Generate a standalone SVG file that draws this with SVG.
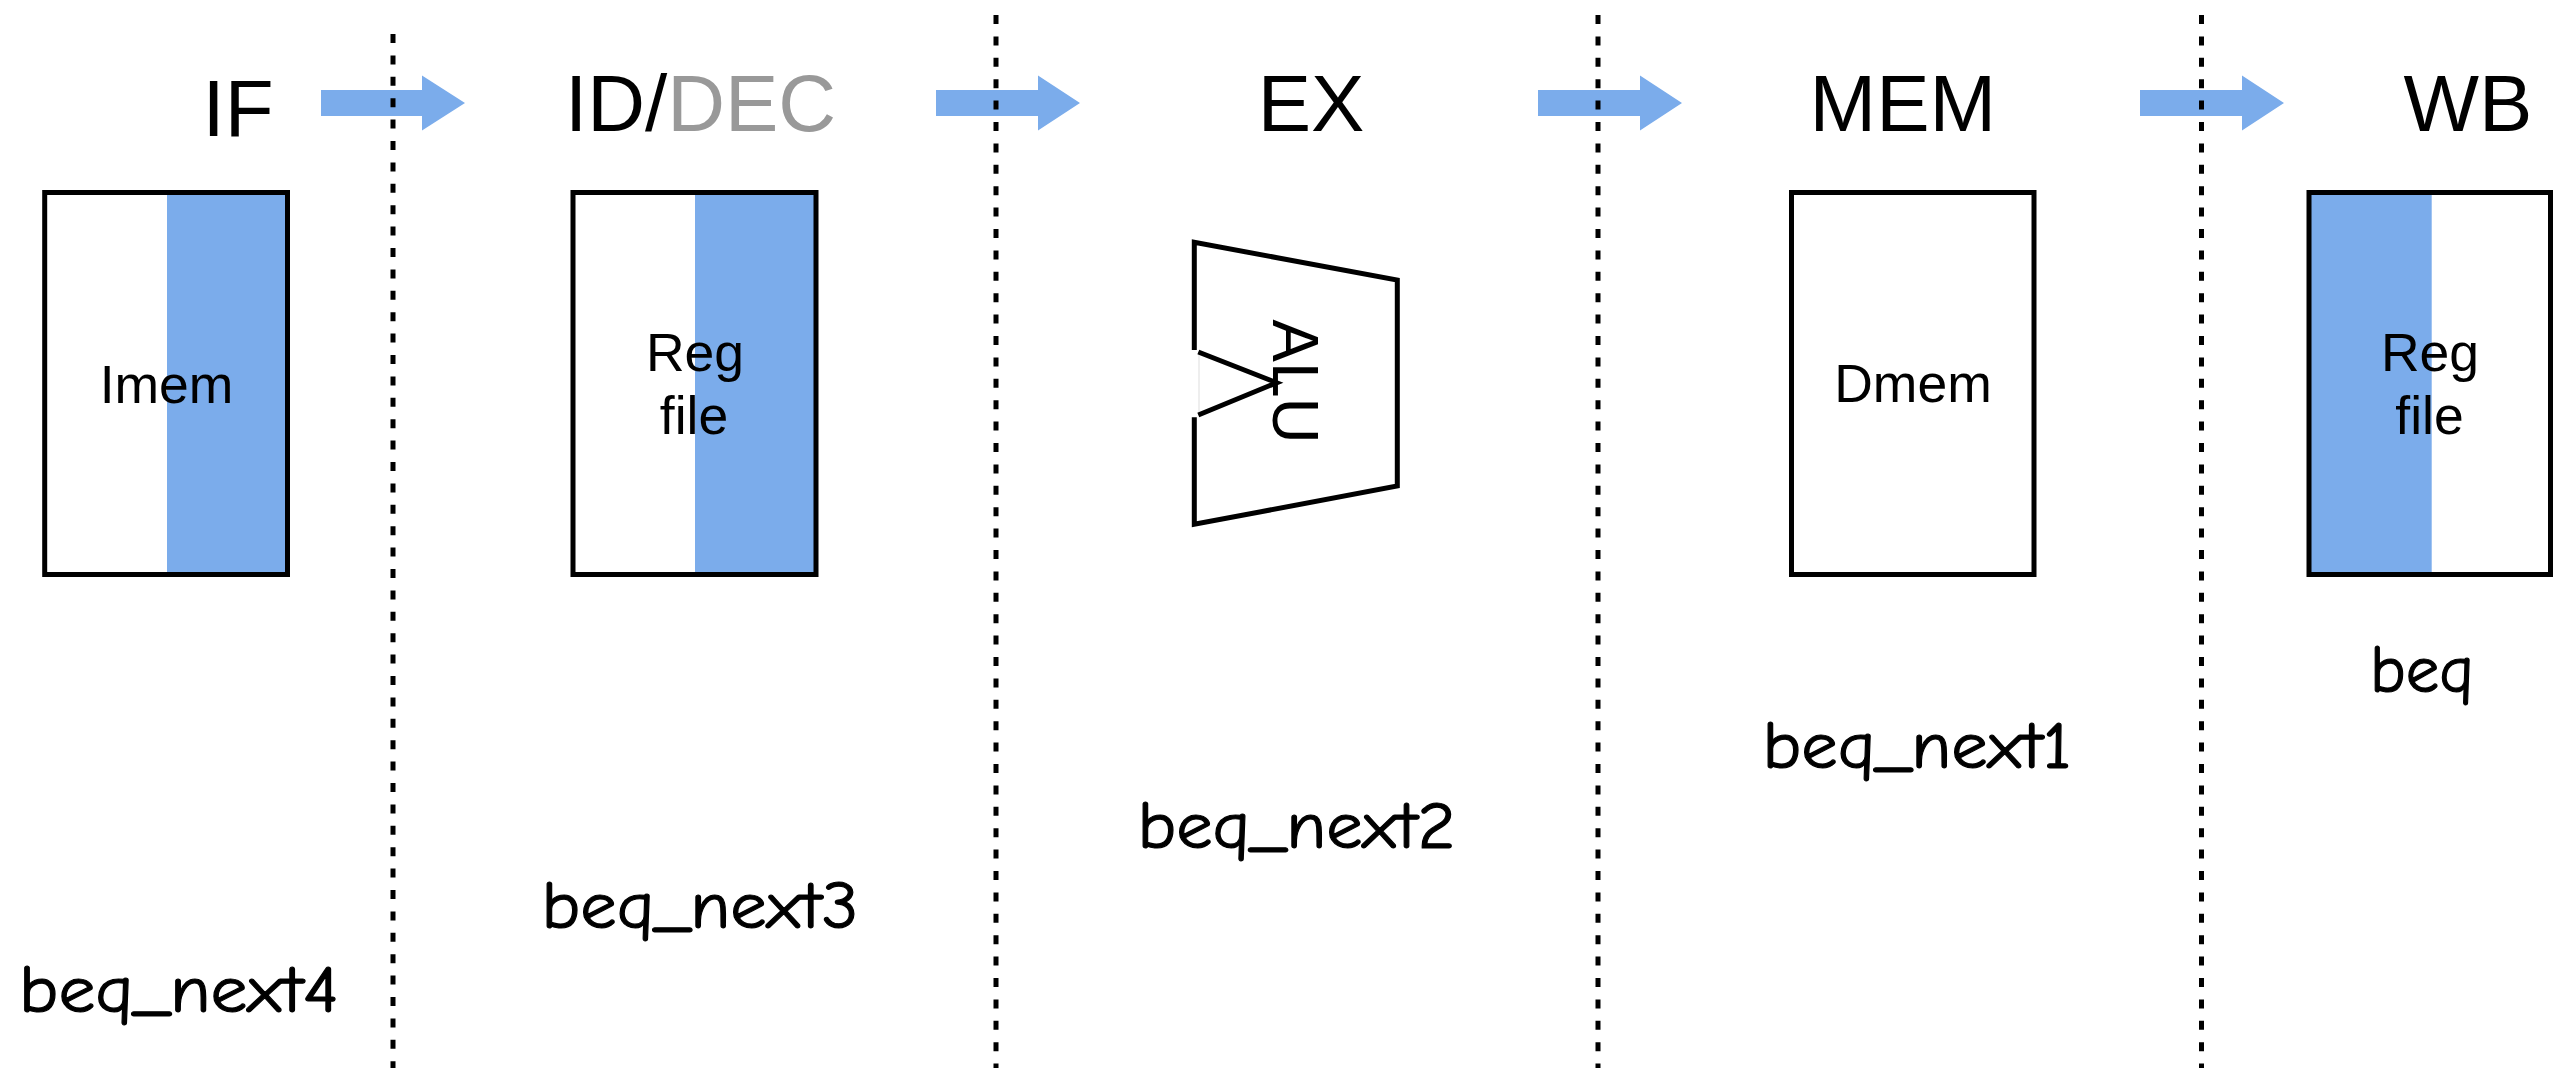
<svg xmlns="http://www.w3.org/2000/svg" width="2564" height="1068" viewBox="0 0 2564 1068">
  <style>
    .stage { font-family: "Liberation Sans", Arial, sans-serif; font-size: 80px; fill: #000; }
    .lbl { font-family: "Liberation Sans", Arial, sans-serif; font-size: 53.5px; fill: #000; text-anchor: middle; }
    .instr { font-family: "Comic Sans MS", "Comic Neue", "DejaVu Sans", sans-serif; font-size: 66px; font-weight: normal; fill: #000; stroke: #000; stroke-width: 1.1; stroke-linejoin: round; }
    .box { fill: none; stroke: #000; stroke-width: 5; }
    .bg { fill: #fff; }
    .blue { fill: #7BACEB; }
    .arrow { fill: #7BACEB; }
    .divider { stroke: #000; stroke-width: 5; stroke-dasharray: 9 12.4; fill: none; }
    .alu { fill: none; stroke: #000; stroke-width: 5; stroke-linejoin: miter; }
  </style>
  <rect x="0" y="0" width="2564" height="1068" fill="#fff"/>

  <!-- stage titles -->
  <g id="title-if"><text class="stage" x="202.5" y="136">IF</text></g>
  <g id="title-id"><text class="stage" x="565" y="131">ID/<tspan fill="#999999">DEC</tspan></text></g>
  <g id="title-ex"><text class="stage" x="1311" y="131" text-anchor="middle">EX</text></g>
  <g id="title-mem"><text class="stage" x="1809.5" y="131">MEM</text></g>
  <g id="title-wb"><text class="stage" x="2403.5" y="131">WB</text></g>

  <!-- connectors: stage arrows -->
  <g id="connectors">
    <polygon class="arrow" points="321,90 422,90 422,75.4 465,103 422,130.6 422,116 321,116"/>
    <polygon class="arrow" points="936,90 1038,90 1038,75.4 1080,103 1038,130.6 1038,116 936,116"/>
    <polygon class="arrow" points="1538,90 1640,90 1640,75.4 1682,103 1640,130.6 1640,116 1538,116"/>
    <polygon class="arrow" points="2140,90 2242,90 2242,75.4 2284,103 2242,130.6 2242,116 2140,116"/>
  </g>

  <!-- Imem -->
  <g id="node-imem">
    <rect class="bg" x="44.7" y="192.5" width="242.8" height="382"/>
    <rect class="blue" x="167" y="192.5" width="120.5" height="382"/>
    <rect class="box" x="44.7" y="192.5" width="242.8" height="382"/>
    <text class="lbl" x="166.5" y="402.5">Imem</text>
  </g>

  <!-- Reg file (decode) -->
  <g id="node-regfile-id">
    <rect class="bg" x="573" y="192.5" width="243" height="382"/>
    <rect class="blue" x="695" y="192.5" width="121" height="382"/>
    <rect class="box" x="573" y="192.5" width="243" height="382"/>
    <text class="lbl" x="695" y="370.5">Reg</text>
    <text class="lbl" x="694" y="433.5">file</text>
  </g>

  <!-- ALU -->
  <g id="node-alu">
    <path class="alu" d="M1194.3,350 V242.3 L1397.3,280 V486 L1194.3,524.3 V417.3"/>
    <line x1="1199" y1="352" x2="1199" y2="415" stroke="#e8e8e8" stroke-width="1.5"/>
    <path class="alu" d="M1198.3,352 L1276.7,382.7 L1198.3,415"/>
    <text transform="translate(1273.3,381.5) rotate(90)" font-family="Liberation Sans, Arial, sans-serif" font-size="64" text-anchor="middle">ALU</text>
  </g>

  <!-- Dmem -->
  <g id="node-dmem">
    <rect class="bg" x="1791.5" y="192.5" width="242.5" height="382"/>
    <rect class="box" x="1791.5" y="192.5" width="242.5" height="382"/>
    <text class="lbl" x="1913" y="402">Dmem</text>
  </g>

  <!-- Reg file (write back) -->
  <g id="node-regfile-wb">
    <rect class="bg" x="2309" y="192.5" width="241.5" height="382"/>
    <rect class="blue" x="2309" y="192.5" width="122.7" height="382"/>
    <rect class="box" x="2309" y="192.5" width="241.5" height="382"/>
    <text class="lbl" x="2430" y="370.5">Reg</text>
    <text class="lbl" x="2429.5" y="433.5">file</text>
  </g>

  <!-- instruction labels -->
  <g id="instr-next4"><text class="instr" x="19" y="1012" textLength="320" lengthAdjust="spacingAndGlyphs">beq_next4</text></g>
  <g id="instr-next3"><text class="instr" x="541.5" y="928" textLength="317" lengthAdjust="spacingAndGlyphs">beq_next3</text></g>
  <g id="instr-next2"><text class="instr" x="1137.5" y="848" textLength="318" lengthAdjust="spacingAndGlyphs">beq_next2</text></g>
  <g id="instr-next1"><text class="instr" x="1762.5" y="768" textLength="309" lengthAdjust="spacingAndGlyphs">beq_next1</text></g>
  <g id="instr-beq"><text class="instr" x="2370" y="692" textLength="104" lengthAdjust="spacingAndGlyphs">beq</text></g>

  <!-- stage dividers -->
  <g id="dividers">
    <line class="divider" x1="393" y1="34" x2="393" y2="1068"/>
    <line class="divider" x1="996" y1="15" x2="996" y2="1068"/>
    <line class="divider" x1="1598" y1="15" x2="1598" y2="1068"/>
    <line class="divider" x1="2201.5" y1="15" x2="2201.5" y2="1068"/>
  </g>
</svg>
